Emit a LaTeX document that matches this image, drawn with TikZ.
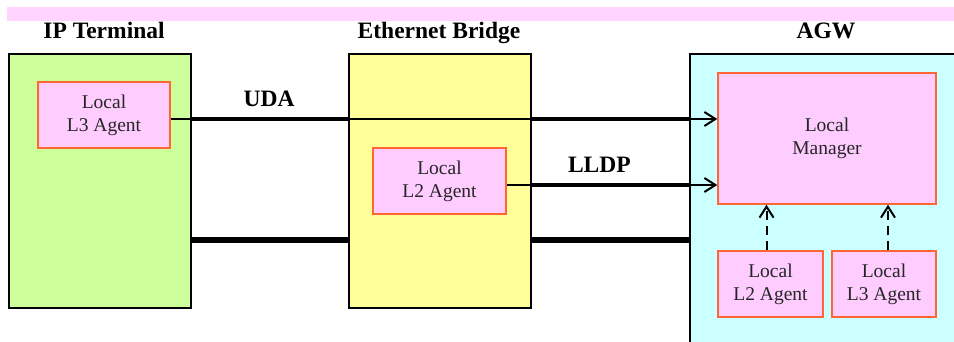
\documentclass[tikz,border=0pt]{standalone}
\usepackage{fontspec}
\setmainfont{Liberation Serif}
\usetikzlibrary{arrows.meta}

\definecolor{bandpink}{RGB}{255,213,255}
\definecolor{termgreen}{RGB}{204,255,153}
\definecolor{bridgeyellow}{RGB}{255,255,153}
\definecolor{agwcyan}{RGB}{204,255,255}
\definecolor{agentpink}{RGB}{255,204,255}
\definecolor{agentline}{RGB}{255,102,51}

\begin{document}
\begin{tikzpicture}[x=1pt,y=-1pt,
  box node/.style={draw=black,line width=2pt,inner sep=0pt,anchor=north west},
  agent node/.style={draw=agentline,fill=agentpink,line width=1.5pt,align=center,
    inner sep=0pt,text=black!85,font=\fontsize{19.5}{23}\selectfont},
  title node/.style={font=\fontsize{23.5}{27}\selectfont\bfseries},
  msg/.style={-{Straight Barb[length=11pt,width=14pt]},line width=2pt},
  dep/.style={msg,dash pattern=on 9pt off 6pt},
  link/.style={line width=4pt},
  wire/.style={line width=6pt}]

  \useasboundingbox (0,0) rectangle (954,342);
  \clip (0,0) rectangle (954,342);
  \fill[bandpink] (7,7) rectangle (954,21);

  % the three boxes
  \node[box node,fill=termgreen,minimum width=182pt,minimum height=254pt] (term) at (8,53) {};
  \node[box node,fill=bridgeyellow,minimum width=182pt,minimum height=254pt] (bridge) at (348,53) {};
  \node[box node,fill=agwcyan,minimum width=300pt,minimum height=320pt] (agw) at (689,53) {};

  \node[title node,anchor=base] (termT) at (104,39) {IP Terminal};
  \node[title node,anchor=base] (bridgeT) at (439,39) {Ethernet Bridge};
  \node[title node,anchor=base] (agwT) at (826,39) {AGW};

  % agents
  \node[agent node,minimum width=132pt,minimum height=66pt] (termL3) at (104,115) {Local\\L3 Agent};
  \node[agent node,minimum width=133pt,minimum height=66pt] (bridgeL2) at (439.5,181) {Local\\L2 Agent};
  \node[agent node,minimum width=218pt,minimum height=131pt] (mgr) at (827,138.5) {Local\\Manager};
  \node[agent node,minimum width=105pt,minimum height=66pt] (agwL2) at (770.5,284) {Local\\L2 Agent};
  \node[agent node,minimum width=104pt,minimum height=66pt] (agwL3) at (884,284) {Local\\L3 Agent};

  \coordinate (uda) at ([yshift=-4pt]termL3.east);
  \coordinate (lldp) at ([yshift=-4pt]bridgeL2.east);
  \coordinate (phy) at (0,240);

  % messages
  \draw[msg] (uda) -- (uda -| mgr.west)
    node[pos=0.18,above=8pt,title node] {UDA};
  \draw[msg] (lldp) -- (lldp -| mgr.west)
    node[pos=0.44,above=8pt,title node] {LLDP};
  \draw[link] (uda -| term.east) -- (uda -| bridge.west);
  \draw[link] (uda -| bridge.east) -- (uda -| agw.west);
  \draw[link] (lldp -| bridge.east) -- (lldp -| agw.west);

  % physical links
  \draw[wire] (phy -| term.east) -- (phy -| bridge.west);
  \draw[wire] (phy -| bridge.east) -- (phy -| agw.west);

  \draw[dep] ([xshift=-4pt]agwL2.north) -- ([xshift=-4pt]agwL2.north |- mgr.south);
  \draw[dep] ([xshift=4pt]agwL3.north) -- ([xshift=4pt]agwL3.north |- mgr.south);
\end{tikzpicture}
\end{document}
